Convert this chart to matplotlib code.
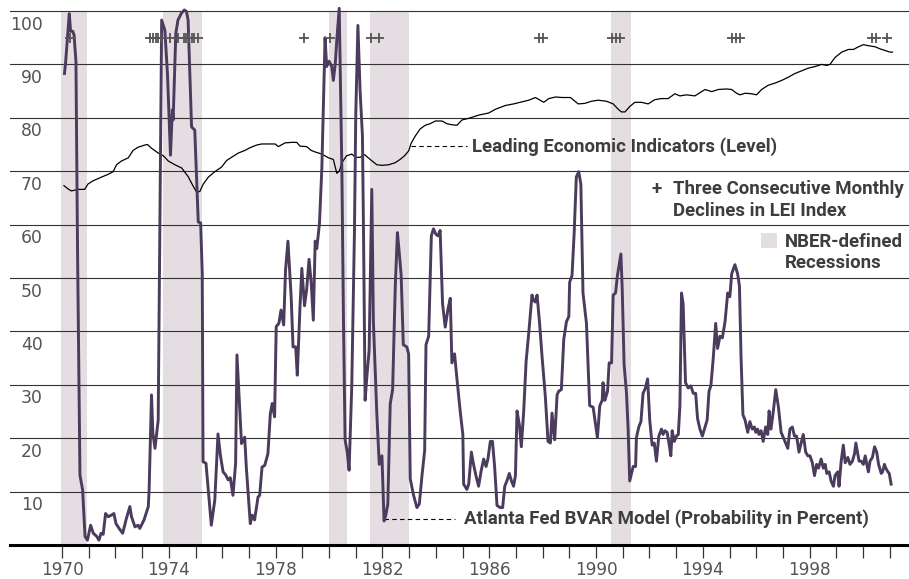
import matplotlib
matplotlib.use('Agg')
import matplotlib.pyplot as plt
from matplotlib.patches import Rectangle

# NBER recessions (start, end) in decimal years
recessions = [(1969.95, 1970.92), (1973.78, 1975.24), (1979.98, 1980.69),
              (1981.52, 1982.98), (1990.56, 1991.31)]

# Leading Economic Indicators (level)
lei_year = [1970.07, 1970.22, 1970.35, 1970.6, 1970.85, 1970.97, 1971.16, 1971.48, 1971.72,
            1971.91, 1972.04, 1972.22, 1972.48, 1972.66, 1972.85, 1973.1, 1973.2, 1973.35,
            1973.6, 1973.79, 1973.98, 1974.23, 1974.48, 1974.72, 1974.91, 1975.04, 1975.16,
            1975.29, 1975.48, 1975.72, 1975.98, 1976.16, 1976.35, 1976.6, 1976.85, 1977.04,
            1977.29, 1977.48, 1977.98, 1978.1, 1978.35, 1978.6, 1978.79, 1978.91, 1979.16,
            1979.33, 1979.48, 1979.73, 1979.98, 1980.16, 1980.29, 1980.38, 1980.48, 1980.66,
            1980.85, 1981.0, 1981.16, 1981.33, 1981.54, 1981.79, 1981.98, 1982.23, 1982.48,
            1982.66, 1982.83, 1982.98, 1983.08, 1983.23, 1983.41, 1983.6, 1983.79, 1983.98,
            1984.23, 1984.41, 1984.6, 1984.79, 1984.98, 1985.23, 1985.6, 1985.98, 1986.23,
            1986.6, 1986.91, 1987.16, 1987.48, 1987.73, 1988.04, 1988.23, 1988.48, 1988.73,
            1989.04, 1989.33, 1989.58, 1989.83, 1990.08, 1990.39, 1990.64, 1990.83, 1990.95,
            1991.08, 1991.26, 1991.45, 1991.7, 1991.95, 1992.2, 1992.45, 1992.7, 1992.95,
            1993.14, 1993.39, 1993.7, 1993.89, 1994.08, 1994.33, 1994.58, 1994.89, 1995.08,
            1995.26, 1995.39, 1995.58, 1995.83, 1996.01, 1996.2, 1996.45, 1996.7, 1996.95,
            1997.2, 1997.45, 1997.7, 1997.95, 1998.2, 1998.45, 1998.64, 1998.76, 1998.95,
            1999.2, 1999.45, 1999.64, 1999.83, 2000.01, 2000.2, 2000.45, 2000.64, 2000.83,
            2001.01, 2001.1]
lei_val = [67.3, 66.7, 66.3, 66.6, 66.6, 67.6, 68.2, 68.9, 69.4,
           69.9, 71.2, 71.9, 72.5, 73.9, 74.5, 74.9, 75.0, 74.3,
           73.4, 72.9, 71.9, 71.2, 70.6, 69.0, 67.2, 66.1, 66.2,
           67.6, 68.9, 69.9, 70.8, 72.0, 72.6, 73.4, 73.9, 74.4,
           74.9, 75.1, 75.1, 74.6, 75.3, 75.4, 75.4, 74.7, 74.6,
           73.9, 73.6, 73.2, 72.5, 72.2, 69.6, 70.0, 71.6, 72.9,
           73.2, 72.6, 72.6, 73.1, 72.2, 71.2, 71.1, 71.2, 71.6,
           72.2, 72.9, 73.8, 75.3, 76.6, 77.9, 78.6, 78.9, 79.4,
           79.4, 78.9, 78.7, 78.6, 79.6, 79.9, 80.5, 80.9, 81.6,
           82.3, 82.6, 82.9, 83.3, 83.8, 82.9, 83.6, 83.9, 83.8,
           83.8, 82.6, 82.7, 83.1, 83.3, 83.1, 82.6, 81.6, 81.1,
           81.1, 82.1, 82.9, 82.9, 82.6, 83.4, 83.6, 83.6, 84.5,
           84.1, 84.3, 84.1, 84.7, 85.3, 84.9, 85.3, 85.4, 85.3,
           84.6, 84.3, 84.6, 84.5, 84.3, 85.3, 86.1, 86.5, 87.0,
           87.6, 88.3, 88.8, 89.3, 89.6, 90.0, 89.8, 90.0, 91.3,
           92.3, 92.8, 92.8, 93.3, 93.7, 93.5, 93.3, 92.9, 92.6,
           92.3, 92.3]

# Atlanta Fed BVAR model, recession probability (percent)
bvar_year = [1970.09, 1970.13, 1970.27, 1970.32, 1970.4, 1970.45, 1970.52, 1970.58, 1970.64,
             1970.67, 1970.77, 1970.86, 1970.95, 1971.07, 1971.17, 1971.3, 1971.38, 1971.46,
             1971.54, 1971.63, 1971.73, 1971.85, 1971.94, 1972.02, 1972.15, 1972.27, 1972.4,
             1972.54, 1972.6, 1972.73, 1972.85, 1972.91, 1973.07, 1973.23, 1973.26, 1973.35,
             1973.4, 1973.48, 1973.6, 1973.73, 1973.85, 1973.95, 1974.06, 1974.13, 1974.16,
             1974.26, 1974.34, 1974.47, 1974.58, 1974.66, 1974.72, 1974.85, 1974.97, 1975.1,
             1975.19, 1975.25, 1975.28, 1975.39, 1975.59, 1975.72, 1975.84, 1975.93, 1976.03,
             1976.13, 1976.22, 1976.3, 1976.4, 1976.5, 1976.55, 1976.72, 1976.84, 1976.9,
             1977.05, 1977.12, 1977.21, 1977.34, 1977.4, 1977.49, 1977.59, 1977.71, 1977.8,
             1977.87, 1977.96, 1978.02, 1978.12, 1978.2, 1978.3, 1978.37, 1978.46, 1978.58,
             1978.65, 1978.75, 1978.81, 1978.91, 1978.98, 1979.08, 1979.16, 1979.25, 1979.33,
             1979.41, 1979.48, 1979.54, 1979.64, 1979.73, 1979.85, 1979.91, 1980.0, 1980.1,
             1980.16, 1980.23, 1980.29, 1980.38, 1980.48, 1980.54, 1980.6, 1980.68, 1980.75,
             1980.85, 1980.95, 1981.0, 1981.08, 1981.16, 1981.25, 1981.29, 1981.35, 1981.41,
             1981.5, 1981.6, 1981.66, 1981.79, 1981.88, 1981.98, 1982.06, 1982.13, 1982.2,
             1982.29, 1982.38, 1982.48, 1982.56, 1982.62, 1982.7, 1982.78, 1982.91, 1982.98,
             1983.04, 1983.16, 1983.29, 1983.38, 1983.48, 1983.58, 1983.63, 1983.73, 1983.83,
             1983.91, 1984.0, 1984.08, 1984.16, 1984.25, 1984.35, 1984.45, 1984.54, 1984.6,
             1984.7, 1984.79, 1984.91, 1985.01, 1985.04, 1985.16, 1985.23, 1985.33, 1985.41,
             1985.5, 1985.6, 1985.7, 1985.79, 1985.88, 1985.95, 1986.04, 1986.12, 1986.2,
             1986.29, 1986.41, 1986.5, 1986.58, 1986.66, 1986.75, 1986.83, 1986.91, 1986.98,
             1987.04, 1987.13, 1987.2, 1987.29, 1987.38, 1987.48, 1987.6, 1987.66, 1987.73,
             1987.79, 1987.88, 1987.98, 1988.1, 1988.2, 1988.29, 1988.35, 1988.45, 1988.54,
             1988.6, 1988.7, 1988.79, 1988.89, 1988.98, 1989.01, 1989.1, 1989.18, 1989.26,
             1989.35, 1989.43, 1989.51, 1989.64, 1989.76, 1989.89, 1990.05, 1990.14, 1990.23,
             1990.26, 1990.33, 1990.43, 1990.49, 1990.58, 1990.64, 1990.73, 1990.8, 1990.93,
             1990.98, 1991.05, 1991.14, 1991.2, 1991.26, 1991.39, 1991.48, 1991.51, 1991.6,
             1991.68, 1991.76, 1991.85, 1991.93, 1992.01, 1992.1, 1992.18, 1992.26, 1992.35,
             1992.45, 1992.51, 1992.58, 1992.66, 1992.73, 1992.8, 1992.85, 1992.93, 1993.01,
             1993.08, 1993.14, 1993.2, 1993.26, 1993.35, 1993.45, 1993.55, 1993.64, 1993.73,
             1993.8, 1993.89, 1993.98, 1994.08, 1994.16, 1994.23, 1994.3, 1994.39, 1994.48,
             1994.55, 1994.64, 1994.73, 1994.83, 1994.93, 1995.01, 1995.08, 1995.2, 1995.3,
             1995.37, 1995.43, 1995.5, 1995.58, 1995.68, 1995.76, 1995.85, 1995.93, 1995.98,
             1996.05, 1996.1, 1996.18, 1996.26, 1996.35, 1996.43, 1996.48, 1996.55, 1996.64,
             1996.73, 1996.83, 1996.93, 1997.05, 1997.18, 1997.26, 1997.35, 1997.43, 1997.51,
             1997.6, 1997.68, 1997.76, 1997.85, 1997.93, 1998.01, 1998.1, 1998.18, 1998.26,
             1998.33, 1998.43, 1998.51, 1998.58, 1998.64, 1998.73, 1998.8, 1998.89, 1998.95,
             1999.05, 1999.1, 1999.18, 1999.26, 1999.33, 1999.43, 1999.51, 1999.6, 1999.68,
             1999.73, 1999.8, 1999.85, 1999.93, 2000.01, 2000.08, 2000.14, 2000.2, 2000.26,
             2000.35, 2000.43, 2000.51, 2000.58, 2000.68, 2000.73, 2000.8, 2000.85, 2000.93,
             2000.98, 2001.05]
bvar_val = [88.3, 90.2, 99.5, 96.2, 96.2, 95.5, 90.5, 55.0, 27.2,
            13.1, 10.3, 1.6, 0.9, 3.7, 2.2, 1.6, 0.9, 2.2,
            2.0, 5.9, 5.3, 5.6, 5.9, 4.0, 3.0, 2.2, 4.8,
            7.2, 5.3, 3.4, 3.7, 3.1, 4.7, 7.2, 10.3, 28.1,
            21.0, 18.1, 23.4, 98.3, 96.4, 88.0, 73.0, 81.5, 79.6,
            95.8, 98.3, 99.6, 100.2, 99.9, 98.3, 78.3, 77.7, 60.5,
            60.3, 50.9, 15.6, 15.3, 3.7, 8.4, 20.8, 16.8, 13.7,
            13.1, 12.2, 12.6, 9.3, 15.3, 35.6, 19.0, 20.2, 14.6,
            4.0, 5.6, 4.7, 9.0, 9.3, 14.6, 14.9, 17.1, 24.6,
            26.5, 24.0, 40.9, 41.5, 44.0, 41.2, 51.5, 56.9, 46.5,
            37.1, 37.1, 31.8, 44.5, 51.8, 44.8, 47.8, 53.5, 49.2,
            42.1, 56.9, 55.5, 60.2, 70.6, 95.0, 89.6, 90.6, 89.6,
            87.0, 90.0, 94.6, 100.5, 69.9, 41.8, 19.7, 17.4, 14.0,
            29.8, 58.5, 80.6, 97.3, 85.3, 76.6, 58.5, 27.1, 31.1,
            36.5, 66.6, 41.8, 24.4, 15.1, 16.7, 4.5, 5.7, 7.7,
            26.4, 29.1, 48.5, 58.5, 55.2, 50.5, 37.5, 37.1, 35.8,
            12.4, 9.4, 7.0, 7.7, 13.0, 17.7, 37.5, 39.1, 57.9,
            59.2, 58.2, 57.9, 58.9, 45.2, 40.8, 44.1, 46.2, 34.1,
            35.8, 31.1, 25.1, 20.7, 11.4, 10.4, 11.4, 17.4, 15.1,
            13.0, 11.0, 14.0, 16.1, 14.7, 16.1, 19.4, 19.4, 14.7,
            7.4, 7.0, 7.0, 11.0, 12.0, 13.4, 12.0, 11.0, 13.0,
            25.1, 22.4, 18.4, 25.1, 34.4, 39.8, 46.8, 45.8, 45.5,
            46.8, 41.8, 35.1, 27.8, 19.4, 19.1, 24.7, 19.7, 28.1,
            28.8, 29.1, 38.5, 41.8, 42.8, 49.2, 50.5, 58.5, 68.9,
            69.9, 67.6, 47.2, 41.5, 26.1, 25.8, 20.1, 26.1, 27.1,
            30.4, 27.1, 28.8, 34.1, 34.1, 46.8, 47.2, 50.5, 54.5,
            47.8, 33.8, 28.4, 21.7, 12.0, 14.7, 14.7, 20.1, 22.1,
            23.1, 28.4, 29.4, 31.1, 23.4, 18.7, 19.1, 15.7, 20.4,
            21.7, 20.7, 21.4, 21.1, 19.1, 16.7, 21.4, 19.4, 20.4,
            20.7, 26.1, 47.2, 45.2, 30.4, 29.4, 29.8, 28.4, 28.4,
            23.7, 21.7, 20.4, 22.1, 23.4, 28.8, 29.8, 35.1, 41.5,
            36.8, 39.1, 38.8, 41.8, 47.2, 46.5, 50.8, 52.5, 50.8,
            48.5, 35.1, 24.4, 23.4, 21.1, 23.1, 21.7, 22.1, 21.1,
            21.7, 20.7, 21.4, 19.4, 22.1, 20.7, 25.1, 21.7, 25.1,
            29.1, 25.8, 21.1, 19.7, 18.1, 21.7, 22.1, 20.4, 20.4,
            17.4, 19.1, 20.7, 17.4, 16.7, 16.7, 15.4, 13.0, 15.1,
            14.4, 16.1, 14.4, 15.1, 13.4, 13.7, 12.0, 11.0, 13.0,
            13.7, 11.0, 15.7, 18.7, 15.4, 16.4, 15.1, 15.7, 17.1,
            19.1, 17.1, 15.7, 15.7, 15.1, 16.7, 15.1, 13.7, 15.7,
            16.4, 18.4, 17.4, 15.1, 13.4, 13.7, 15.1, 14.4, 13.7,
            13.4, 11.4]

# months with three consecutive monthly declines in the LEI
decline_year = [1970.3, 1973.3, 1973.4, 1973.5, 1973.6, 1973.7, 1974.05, 1974.35,
                1974.55, 1974.65, 1974.75, 1974.85, 1974.95, 1975.1,
                1979.06, 1980.02, 1981.58, 1981.86, 1987.85, 1988.0,
                1990.6, 1990.75, 1990.9, 1995.1, 1995.25, 1995.4,
                2000.35, 2000.5, 2000.88]

x_labels = [1970, 1974, 1978, 1982, 1986, 1990, 1994, 1998]
y_labels = [10, 20, 30, 40, 50, 60, 70, 80, 90, 100]

shade = '#e4dee2'
purple = '#4b3b5c'
txt = '#3d3d3d'
bold_font = ['Roboto', 'DejaVu Sans']
fs = 13.4

fig = plt.figure(figsize=(9.09, 5.79), dpi=100)
ax = fig.add_axes([10 / 909, 34 / 579, 899 / 909, 545 / 579])
ax.set_xlim(1968.05, 2001.72)
ax.set_ylim(0, 102.06)

for a, b in recessions:
    ax.axvspan(a, b, ymin=0, ymax=100 / 102.06, color=shade, lw=0, zorder=0)

for v in y_labels:
    ax.axhline(v, color='#333333', lw=0.8, zorder=1)
    ax.text(0.0367, v - 3.5, str(v), transform=ax.get_yaxis_transform(),
            ha='right', va='baseline', fontsize=12.4, color='#555555')

ax.plot(lei_year, lei_val, color='black', lw=0.9, zorder=3)
ax.plot(bvar_year, bvar_val, color=purple, lw=2.1, zorder=4)
ax.plot(decline_year, [94.9] * len(decline_year), ls='none', marker='+',
        ms=7, mew=1.3, color='#555555', zorder=5)

# annotations
ax.plot([1983.08, 1985.15], [74.7, 74.7], color='black', lw=0.8, ls=(0, (4, 3)), zorder=3)
ax.text(1985.36, 74.7, 'Leading Economic Indicators (Level)', family=bold_font,
        fontweight='bold', fontsize=fs, color=txt, va='center', ha='left')
ax.plot([1982.07, 1984.72], [4.9, 4.9], color='black', lw=0.8, ls=(0, (4, 3)), zorder=3)
ax.text(1985.06, 4.9, 'Atlanta Fed BVAR Model (Probability in Percent)', family=bold_font,
        fontweight='bold', fontsize=fs, color=txt, va='center', ha='left')

ax.text(1992.28, 66.7, '+', family=bold_font, fontweight='bold', fontsize=fs,
        color=txt, va='center', ha='center')
ax.text(1992.88, 66.7, 'Three Consecutive Monthly', family=bold_font, fontweight='bold',
        fontsize=fs, color=txt, va='center', ha='left')
ax.text(1992.88, 62.5, 'Declines in LEI Index', family=bold_font, fontweight='bold',
        fontsize=fs, color=txt, va='center', ha='left')
ax.add_patch(Rectangle((1996.18, 55.6), 0.6, 2.8, color=shade, lw=0, zorder=2))
ax.text(1997.08, 56.7, 'NBER-defined', family=bold_font, fontweight='bold',
        fontsize=fs, color=txt, va='center', ha='left')
ax.text(1997.08, 52.8, 'Recessions', family=bold_font, fontweight='bold',
        fontsize=fs, color=txt, va='center', ha='left')

# axes styling
for s in ['top', 'left', 'right']:
    ax.spines[s].set_visible(False)
ax.spines['bottom'].set_linewidth(2.2)
ax.spines['bottom'].set_color('black')
ax.set_yticks([])
ax.set_xticks(x_labels)
ax.set_xticklabels([str(x) for x in x_labels])
ax.set_xticks(list(range(1970, 2002)), minor=True)
ax.tick_params(axis='x', which='both', direction='out', length=9, width=0.9,
               color='#333333', pad=2.8, labelsize=12.2, labelcolor='#555555')

fig.savefig('out.png', dpi=100)
